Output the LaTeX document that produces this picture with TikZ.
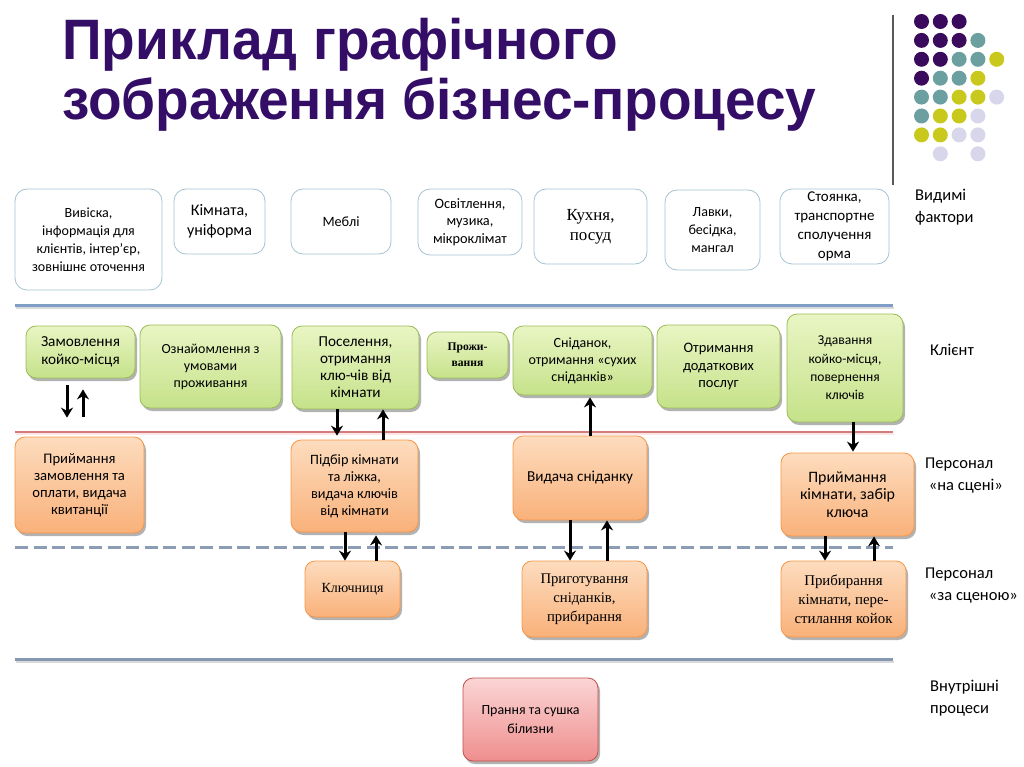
\documentclass[tikz,border=0pt]{standalone}
\usepackage{fontspec}
\setmainfont{Carlito}
\newfontfamily\tnr{Liberation Serif}
\newfontfamily\arial{Liberation Sans}
\usetikzlibrary{arrows.meta,shadows,calc}
\definecolor{titlec}{HTML}{330D66}
\definecolor{vborder}{HTML}{A5C3D2}
\definecolor{gborder}{HTML}{9BBB59}
\definecolor{gtop}{HTML}{E9F5C3}
\definecolor{gbot}{HTML}{C5E28A}
\definecolor{oborder}{HTML}{F79646}
\definecolor{otop}{HTML}{FDDCBE}
\definecolor{obot}{HTML}{F9B17A}
\definecolor{pborder}{HTML}{C0504D}
\definecolor{ptop}{HTML}{FBD5D5}
\definecolor{pbot}{HTML}{EF8E8E}
\definecolor{dpur}{HTML}{3A0B5C}
\definecolor{dteal}{HTML}{6C9F9F}
\definecolor{dyel}{HTML}{C9C81C}
\definecolor{dlav}{HTML}{D7D6EA}
\definecolor{lblue}{HTML}{7F9DC6}
\definecolor{lred}{HTML}{D27C7C}
\definecolor{ldash}{HTML}{8C9CB5}
\definecolor{lsteel}{HTML}{8498B2}
\newcommand{\fs}[2]{\fontsize{#1}{#2}\selectfont}
\newlength\fitlen
% font size chosen so that sample text #2 is #1 pt wide; #3 = baselineskip
\newcommand{\fitsize}[3]{\settowidth\fitlen{\fontsize{10}{12}\selectfont #2}%
  \pgfmathsetmacro\fitfs{10*#1/\fitlen}\fontsize{\fitfs}{#3}\selectfont}
\tikzset{
  vis/.style={draw=vborder, line width=0.8pt, rounded corners=12pt, fill=white,
    align=center, inner sep=2pt, text=black, font=\fs{13.6}{18}},
  procbox/.style={rounded corners=10pt, align=center, line width=0.8pt, inner sep=2pt,
    drop shadow={shadow xshift=2pt, shadow yshift=-3pt, opacity=0.3, fill=black},
    font=\fs{13.5}{17}},
  gbox/.style={procbox, draw=gborder, top color=gtop, bottom color=gbot},
  obox/.style={procbox, draw=oborder, top color=otop, bottom color=obot},
  pbox/.style={procbox, draw=pborder, top color=ptop, bottom color=pbot},
  arr/.style={line width=3pt, -{Stealth[length=10pt,width=12pt]}},
  lab/.style={anchor=north west, align=left, inner sep=0pt, font=\fs{16.5}{22}},
  dot/.style={circle, minimum size=15pt, inner sep=0pt},
  ttl/.style={anchor=base west, inner sep=0pt, text=titlec, font=\arial\bfseries\fs{57}{60}}
}
\begin{document}
\begin{tikzpicture}[x=1pt,y=-1pt]
\useasboundingbox (0,0) rectangle (1024,767);
% title
\node[ttl] (t1) at (62,60) {\scalebox{0.965}[1]{Приклад графічного}};
\node[ttl] (t2) at (62,120) {\scalebox{0.965}[1]{зображення бізнес-процесу}};
% decoration
\draw[line width=1.5pt, color=black!65] (893,15) -- (893,185);
\foreach \r/\cols in {1/{dpur,dpur,dpur,none,none},2/{dpur,dpur,dpur,dteal,none},
  3/{dpur,dpur,dteal,dteal,dyel},4/{dpur,dteal,dteal,dyel,none},5/{dteal,dteal,dyel,dyel,dlav},
  6/{dteal,dyel,dyel,dlav,none},7/{dyel,dyel,dlav,dlav,none},8/{none,dlav,none,dlav,none}}{
  \foreach \c [count=\i] in \cols {
    \def\tmp{none}\ifx\c\tmp\else
      \node[dot, fill=\c] (d\r\i) at ({921.5+18.8*(\i-1)},{21.5+18.9*(\r-1)}) {};
    \fi
  }
}
% separator lines
\draw[line width=2pt, color=black!15] (16,308) -- (894,308);
\draw[line width=2.5pt, color=lblue] (15,305.5) -- (893,305.5);
\draw[line width=1.5pt, color=red!10] (16,434) -- (894,434);
\draw[line width=1.5pt, color=lred] (15,432) -- (893,432);
\draw[line width=3.2pt, color=ldash, dash pattern=on 13pt off 5.5pt] (15,547.5) -- (893,547.5);
\draw[line width=2pt, color=black!15] (16,661.5) -- (894,661.5);
\draw[line width=3pt, color=lsteel] (15,659) -- (893,659);
% visible factors
\node[vis, minimum width=147pt, minimum height=101pt, font={\fitsize{113}{зовнішнє оточення}{18}}] (v1) at (88.5,239.5) {Вивіска,\\інформація для\\клієнтів, інтер'єр,\\зовнішнє оточення};
\node[vis, minimum width=91pt, minimum height=65pt, font={\fitsize{65}{уніформа}{20}}] (v2) at (219.5,221.5) {Кімната,\\уніформа};
\node[vis, minimum width=100pt, minimum height=65pt, font={\fitsize{37}{Меблі}{20}}] (v3) at (341,221.5) {Меблі};
\node[vis, minimum width=104pt, minimum height=66pt, font={\fitsize{74}{мікроклімат}{17.5}}] (v4) at (470,222) {Освітлення,\\музика,\\мікроклімат};
\node[vis, minimum width=113pt, minimum height=75pt, font={\tnr\fitsize{48}{Кухня,}{20}}] (v5) at (590.5,226.5) {Кухня,\\посуд};
\node[vis, minimum width=95pt, minimum height=80pt, font={\fitsize{48}{бесідка,}{18}}] (v6) at (712.5,230) {Лавки,\\бесідка,\\мангал};
\node[vis, minimum width=109pt, minimum height=75pt, font={\fitsize{80}{транспортне}{19}}] (v7) at (834.5,226.5) {Стоянка,\\транспортне\\сполучення\\орма};
% client
\node[gbox, minimum width=109pt, minimum height=52pt, font={\fitsize{79}{Замовлення}{17.5}}] (c1) at (80.5,352) {Замовлення\\койко-місця};
\node[gbox, minimum width=141pt, minimum height=83pt, font={\fitsize{98}{Ознайомлення з}{17}}] (c2) at (210.5,366.5) {Ознайомлення з\\умовами\\проживання};
\node[gbox, minimum width=127pt, minimum height=83pt, font={\fitsize{71}{клю-чів від}{17}}] (c3) at (355.5,367.5) {Поселення,\\отримання\\клю-чів від\\кімнати};
\node[gbox, minimum width=81pt, minimum height=46pt, font={\tnr\bfseries\fitsize{40}{Прожи-}{16}}] (c4) at (467.5,355) {Прожи-\\вання};
\node[gbox, minimum width=139pt, minimum height=69pt, font={\fitsize{108}{отримання «сухих}{17}}] (c5) at (582.5,360.5) {Сніданок,\\отримання «сухих\\сніданків»};
\node[gbox, minimum width=123pt, minimum height=83pt, font={\fitsize{71}{додаткових}{17.5}}] (c6) at (718.5,366.5) {Отримання\\додаткових\\послуг};
\node[gbox, minimum width=116pt, minimum height=108pt, font={\fitsize{73}{койко-місця,}{18.3}}] (c7) at (845,368) {Здавання\\койко-місця,\\повернення\\ключів};
% staff on stage
\node[obox, minimum width=129pt, minimum height=96pt, font={\fitsize{91}{замовлення та}{17}}] (s1) at (79.5,485) {Приймання\\замовлення та\\оплати, видача\\квитанції};
\node[obox, minimum width=127pt, minimum height=92pt, font={\fitsize{87}{видача ключів}{17}}] (s2) at (354.5,486) {Підбір кімнати\\та ліжка,\\видача ключів\\від кімнати};
\node[obox, minimum width=134pt, minimum height=84pt, font={\fitsize{106}{Видача сніданку}{18}}] (s3) at (580,478) {Видача сніданку};
\node[obox, minimum width=133pt, minimum height=83pt, font={\fitsize{95}{кімнати, забір}{17.5}}] (s4) at (847.5,494.5) {Приймання\\кімнати, забір\\ключа};
% backstage
\node[obox, minimum width=95pt, minimum height=56pt, font={\tnr\fitsize{62}{Ключниця}{19}}] (b1) at (352.5,589) {Ключниця};
\node[obox, minimum width=125pt, minimum height=76pt, font={\tnr\fitsize{88}{Приготування}{19}}] (b2) at (584.5,599) {Приготування\\сніданків,\\прибирання};
\node[obox, minimum width=125pt, minimum height=76pt, font={\tnr\fitsize{98}{стилання койок}{19}}] (b3) at (843.5,599) {Прибирання\\кімнати, пере-\\стилання койок};
% internal
\node[pbox, minimum width=135pt, minimum height=83pt, font={\fitsize{98}{Прання та сушка}{18.7}}] (p1) at (530.5,719.5) {Прання та сушка\\білизни};
% labels
\node[lab] (l1) at (915,189) {Видимі\\фактори};
\node[lab] (l2) at (930,344) {Клієнт};
\node[lab] (l3) at (925,458) {Персонал\\\ «на сцені»};
\node[lab] (l4) at (925,568) {Персонал\\\ «за сценою»};
\node[lab] (l5) at (930,680) {Внутрішні\\процеси};
% arrows client <-> staff
\draw[arr] ($(c1.south)+(-13.5,7)$) -- ($(s1.north)+(-12.5,-19)$);
\draw[arr] ($(s1.north)+(3.5,-20)$) -- ($(c1.south)+(2.5,11)$);
\draw[arr] ($(c3.south)+(-18.5,0)$) -- ($(s2.north)+(-17.5,-4)$);
\draw[arr] ($(s2.north)+(28.5,0)$) -- ($(c3.south)+(27.5,0)$);
\draw[arr] ($(s3.north)+(10,0)$) -- ($(c5.south)+(7.5,2)$);
\draw[arr] ($(c7.south)+(8,0)$) -- ($(s4.north)+(5.5,-1)$);
% arrows on stage <-> backstage
\draw[arr] ($(s2.south)+(-9.5,0)$) -- ($(b1.north)+(-7.5,0)$);
\draw[arr] ($(b1.north)+(23.5,0)$) -- ($(s2.south)+(21.5,3)$);
\draw[arr] ($(s3.south)+(-10,0)$) -- ($(b2.north)+(-14.5,0)$);
\draw[arr] ($(b2.north)+(22.5,0)$) -- ($(s3.south)+(27,0)$);
\draw[arr] ($(s4.south)+(-22.5,0)$) -- ($(b3.north)+(-18.5,0)$);
\draw[arr] ($(b3.north)+(30.5,0)$) -- ($(s4.south)+(26.5,0)$);
\end{tikzpicture}
\end{document}
